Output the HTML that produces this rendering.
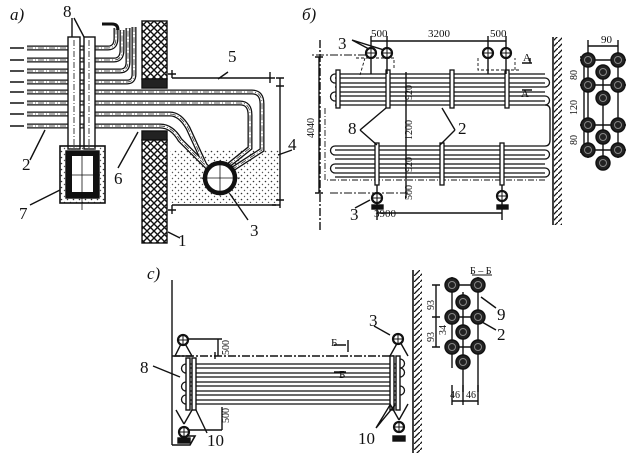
<!DOCTYPE html>
<html><head><meta charset="utf-8"><style>
html,body{margin:0;padding:0;background:#fff}
svg{display:block}
text{font-family:"Liberation Serif","Noto Serif CJK SC",serif;fill:#111}
</style></head><body>
<svg width="642" height="472" viewBox="0 0 642 472" xmlns="http://www.w3.org/2000/svg">
<defs>
<pattern id="xh" width="7" height="7" patternUnits="userSpaceOnUse">
<rect width="7" height="7" fill="#fff"/>
<path d="M0,0L7,7M7,0L0,7" stroke="#111" stroke-width="1.4"/>
</pattern>
<pattern id="dots" width="6" height="6" patternUnits="userSpaceOnUse">
<circle cx="1.5" cy="1.5" r=".8" fill="#333"/><circle cx="4.5" cy="4.5" r=".7" fill="#555"/>
</pattern>
<pattern id="wh" width="6" height="6" patternUnits="userSpaceOnUse">
<path d="M0,6L6,0" stroke="#111" stroke-width="1.3"/>
</pattern>
<g id="cs"><circle r="7" fill="#222"/><circle r="3.5" fill="none" stroke="#888" stroke-width="1"/></g>
<g id="valve"><circle r="5" fill="#fff" stroke="#111" stroke-width="2.2"/><path d="M-5,0H5M0,-5V5" stroke="#111" stroke-width="1"/></g>
<g id="ap">
<path d="M27,48H108Q116,48 116,38V28"/>
<path d="M27,60H114Q122,60 122,50V30"/>
<path d="M27,71H120Q128,71 128,62V28"/>
<path d="M27,82H127Q134,82 134,74V27"/>
<path d="M27,92H252Q262,92 262,104V150L228,172"/>
<path d="M27,103H240Q250,103 250,115V148L225,168"/>
<path d="M27,114H170Q180,114 188,128L205,165"/>
<path d="M27,126H160Q172,126 180,140L210,170"/>
</g>
</defs>
<g fill="none" stroke="#111" stroke-width="1.4">
<!-- ===== Panel a ===== -->
<rect x="142" y="21" width="25" height="58" fill="url(#xh)" stroke="#111"/>
<rect x="142" y="79" width="25" height="9" fill="#222"/>
<rect x="142" y="131" width="25" height="9" fill="#222"/>
<rect x="142" y="140" width="25" height="103" fill="url(#xh)"/>
<rect x="170" y="150" width="109" height="53" fill="url(#dots)" stroke="none"/>
<g stroke-width="1.6"><path d="M10,48h14M10,60h14M10,71h14M10,82h14M10,92h14M10,103h14M10,114h14M10,126h14"/></g>
<use href="#ap" stroke-width="5"/>
<use href="#ap" stroke="#fff" stroke-width="2.4"/>
<use href="#ap" stroke="#222" stroke-width=".7" stroke-dasharray="6,2,1,2"/>
<path d="M102,24h10q6,0 6,6" stroke-width="3"/>
<rect x="68" y="37" width="12" height="112" fill="#fff"/>
<rect x="84" y="37" width="11" height="112" fill="#fff"/>
<path d="M74,40V148M89,40V148" stroke-dasharray="6,2,1,2" stroke-width=".8"/>
<rect x="60" y="146" width="45" height="57" fill="url(#dots)" stroke="#111" stroke-width="1.6"/>
<rect x="66" y="151" width="33" height="47" fill="#111"/>
<rect x="72" y="156" width="21" height="36" fill="#fff" stroke="none"/>
<path d="M66,175H100M82,151V210" stroke-width=".8"/>
<circle cx="220" cy="178" r="15" fill="#fff" stroke="#111" stroke-width="4.5"/>
<path d="M200,178H240M220,160V196" stroke-width=".8"/>
<path d="M172,78H275M280,83V200M172,205H280"/>
<path d="M172,70V78M168,74h8M270,72V83M276,78h8M280,78V83M276,86h8M280,200V208M276,200h8M272,205h4M172,205V214M168,210h8"/>
<path d="M72,18L72,37M74,18L84,37"/>
<path d="M228,72L218,79M292,150L278,155M248,220L230,194M180,238L168,232M30,160L45,130M118,168L138,132M30,205L60,190"/>
<!-- ===== Panel b ===== -->
<path d="M320,40V232" stroke-dasharray="8,2,2,2"/>
<path d="M319,57V193M315,57h8M315,193h8"/>
<path d="M366,55H312M330,193H410" stroke-dasharray="8,2,2,2" stroke-width=".9"/>
<path d="M371,41H506M371,36V56M387,36V56M488,36V56M506,36V56"/>
<path d="M406,72V198"/>
<path d="M377,213H502M377,206V220M502,206V220"/>
<g stroke-width="1.3">
<path d="M335,74H545M335,78H545M335,83H545M335,87H545M335,92H545M335,96H545M335,101H545M335,105H545"/>
<path d="M335,74a4,4 0 0 0 0,9M335,92a4,4 0 0 0 0,9M545,78a4,4 0 0 1 0,9M545,96a4,4 0 0 1 0,9"/>
<path d="M335,146H545M335,150H545M335,155H545M335,159H545M335,164H545M335,168H545M335,173H545M335,177H545"/>
<path d="M335,146a4,4 0 0 0 0,9M335,164a4,4 0 0 0 0,9M545,150a4,4 0 0 1 0,9M545,168a4,4 0 0 1 0,9"/>
<path d="M545,105q5,0 5,5V140q0,6 -5,6"/>
<path d="M325,108V180H545" stroke-dasharray="6,2,1,2" stroke-width=".9"/>
</g>
<g fill="#fff" stroke-width="1.3">
<rect x="336" y="70" width="4" height="38"/><rect x="386" y="70" width="4" height="38"/>
<rect x="450" y="70" width="4" height="38"/><rect x="505" y="70" width="4" height="38"/>
<rect x="375" y="143" width="4" height="42"/><rect x="440" y="143" width="4" height="42"/><rect x="500" y="143" width="4" height="42"/>
</g>
<path d="M371,58V74M387,58V74M488,58V74M506,58V74M377,185V205M502,185V205"/>
<use href="#valve" x="371" y="53"/><use href="#valve" x="387" y="53"/>
<use href="#valve" x="488" y="53"/><use href="#valve" x="506" y="53"/>
<use href="#valve" x="377" y="198"/><use href="#valve" x="502" y="196"/>
<rect x="372" y="205" width="11" height="4" fill="#111"/><rect x="497" y="205" width="11" height="4" fill="#111"/>
<path d="M356,58H394V70M365,58L360,75M478,58V70H520M515,70V58" stroke-dasharray="3,2" stroke-width=".9"/>
<path d="M352,40L369,49M352,40L384,50M355,208L370,200"/>
<path d="M360,130L386,108M360,130L377,145M455,130L442,108M455,130L440,145"/>
<path d="M522,63h10M530,63V58M522,90h10"/>
<path d="M553,37V225" stroke-width="1.6"/>
<rect x="554" y="37" width="8" height="188" fill="url(#wh)" stroke="none"/>
<path d="M588,46H618M588,40V60M618,40V60M584,57V152M580,57h8M580,85h8M580,125h8M580,152h8"/>
<path d="M580,60H626M580,85H626M580,125H626M580,150H626M588,52V158M618,52V158M603,65V170"/>
<use href="#cs" x="588" y="60"/><use href="#cs" x="618" y="60"/><use href="#cs" x="603" y="72"/>
<use href="#cs" x="588" y="85"/><use href="#cs" x="618" y="85"/><use href="#cs" x="603" y="98"/>
<use href="#cs" x="588" y="125"/><use href="#cs" x="618" y="125"/><use href="#cs" x="603" y="137"/>
<use href="#cs" x="588" y="150"/><use href="#cs" x="618" y="150"/><use href="#cs" x="603" y="163"/>
<!-- ===== Panel c ===== -->
<path d="M172,280V445"/>
<path d="M172,445H190L195,436H180" stroke-width="1.6"/>
<path d="M413,270V453" stroke-width="1.6"/>
<rect x="414" y="270" width="8" height="183" fill="url(#wh)" stroke="none"/>
<path d="M172,356H395" stroke-dasharray="8,2,2,2"/>
<g stroke-width="1.3">
<path d="M186,364H400M186,368H400M186,373H400M186,377H400M186,382H400M186,386H400M186,391H400M186,395H400M186,400H400M186,404H400"/>
<path d="M186,364a4,4 0 0 0 0,9M186,382a4,4 0 0 0 0,9M186,395a4,4 0 0 0 0,9M400,368a4,4 0 0 1 0,9M400,386a4,4 0 0 1 0,9M400,359a4,4 0 0 1 0,9"/>
</g>
<g fill="#fff"><rect x="186" y="358" width="4" height="52"/><rect x="192" y="358" width="4" height="52"/>
<rect x="390" y="356" width="4" height="54"/><rect x="396" y="356" width="4" height="54"/></g>
<path d="M183,340L175,356H192ZM399,340L390,356M399,340L408,356M184,424L176,410M184,424L192,410M399,420L390,404M399,420L408,404"/>
<path d="M183,339H222M218,339V356M215,359V352M222,407V430M186,430H222"/>
<use href="#valve" x="183" y="340"/><use href="#valve" x="398" y="339"/>
<use href="#valve" x="184" y="432"/><use href="#valve" x="399" y="427"/>
<rect x="178" y="438" width="12" height="5" fill="#111"/><rect x="393" y="436" width="12" height="5" fill="#111"/>
<path d="M334,345h12M348,340V352M334,372h12"/>
<path d="M153,366L180,377M207,433L196,410M376,428L390,405M376,428L395,405M374,326L390,335"/>
<path d="M472,275H492" stroke-width="1"/>
<path d="M452,277V368M463,292V392M478,277V392M446,285H484M446,317H484M446,347H484"/>
<path d="M436,285V347M432,285h8M432,317h8M432,347h8M452,405V385M463,405V385M478,405V385M452,401H478"/>
<use href="#cs" x="452" y="285"/><use href="#cs" x="478" y="285"/><use href="#cs" x="463" y="302"/>
<use href="#cs" x="452" y="317"/><use href="#cs" x="478" y="317"/><use href="#cs" x="463" y="332"/>
<use href="#cs" x="452" y="347"/><use href="#cs" x="478" y="347"/><use href="#cs" x="463" y="362"/>
<path d="M481,297L496,308M482,322L496,330"/>
</g>
<g font-size="17">
<text x="10" y="20" font-style="italic">a)</text>
<text x="63" y="17">8</text>
<text x="228" y="62">5</text>
<text x="288" y="150">4</text>
<text x="250" y="236">3</text>
<text x="178" y="246">1</text>
<text x="22" y="170">2</text>
<text x="114" y="184">6</text>
<text x="19" y="219">7</text>
<text x="302" y="20" font-style="italic">б)</text>
<text x="338" y="49">3</text>
<text x="348" y="134">8</text>
<text x="458" y="134">2</text>
<text x="350" y="220">3</text>
<text x="147" y="279" font-style="italic">c)</text>
<text x="140" y="373">8</text>
<text x="369" y="326">3</text>
<text x="207" y="446">10</text>
<text x="358" y="444">10</text>
<text x="497" y="320">9</text>
<text x="497" y="340">2</text>
</g>
<g font-size="11">
<text x="371" y="37">500</text>
<text x="428" y="37">3200</text>
<text x="490" y="37">500</text>
<text x="601" y="43">90</text>
<text x="523" y="61">A</text>
<text x="521" y="97">A</text>
<text x="374" y="217">3900</text>
<text x="331" y="346">Б</text>
<text x="339" y="378">Б</text>
<text x="470" y="274" font-size="10">Б – Б</text>
<text x="450" y="398" font-size="10">46</text>
<text x="466" y="398" font-size="10">46</text>
<g font-size="10">
<text transform="translate(314,138) rotate(-90)">4040</text>
<text transform="translate(412,100) rotate(-90)">920</text>
<text transform="translate(412,140) rotate(-90)">1200</text>
<text transform="translate(412,172) rotate(-90)">920</text>
<text transform="translate(412,200) rotate(-90)">500</text>
<text transform="translate(577,80) rotate(-90)">80</text>
<text transform="translate(577,115) rotate(-90)">120</text>
<text transform="translate(577,145) rotate(-90)">80</text>
<text transform="translate(229,355) rotate(-90)">500</text>
<text transform="translate(229,423) rotate(-90)">500</text>
<text transform="translate(434,310) rotate(-90)">93</text>
<text transform="translate(434,342) rotate(-90)">93</text>
<text transform="translate(446,335) rotate(-90)">34</text>
</g>
</g>
</svg>
</body></html>
